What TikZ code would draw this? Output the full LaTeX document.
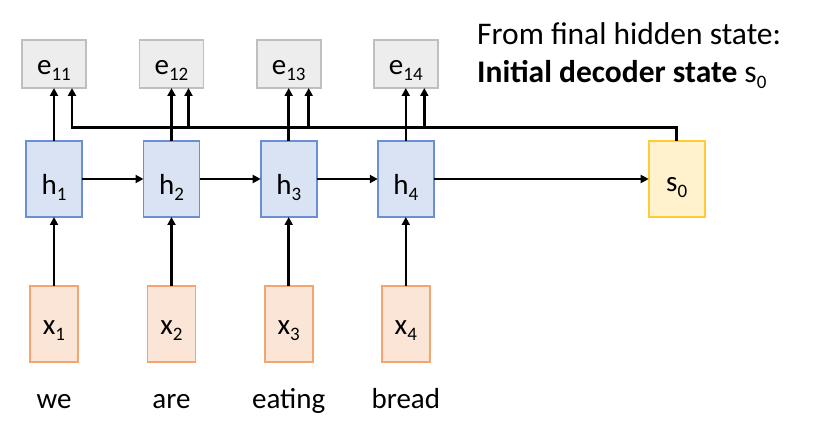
\documentclass[tikz,border=0pt]{standalone}
\usepackage{fontspec}
\setmainfont{Carlito}
\usepackage{xcolor}
\definecolor{scoreFill}{HTML}{EDEDED}
\definecolor{scoreBorder}{HTML}{BFBFBF}
\definecolor{encFill}{HTML}{DAE3F3}
\definecolor{encBorder}{HTML}{6A8FD5}
\definecolor{inFill}{HTML}{FBE5D6}
\definecolor{inBorder}{HTML}{F4A46E}
\definecolor{decFill}{HTML}{FFF2CC}
\definecolor{decBorder}{HTML}{FFCC33}
\usepackage{tikz}
\usetikzlibrary{arrows.meta,positioning}
\newcommand{\lowidx}[1]{\raisebox{-6pt}{\fontsize{19}{19}\selectfont #1}}
\tikzset{
    box/.style={
        draw,
        rectangle,
        line width=1.8pt,
        align=center,
        inner sep=0pt,
        outer sep=0pt,
        text depth=0pt,
        font=\fontsize{29}{35}\selectfont
    },
    score/.style={
        box,
        draw=scoreBorder,
        fill=scoreFill,
        minimum width=64pt,
        minimum height=48pt,
        text height=21pt
    },
    hidden/.style={
        box,
        draw=encBorder,
        fill=encFill,
        minimum width=56pt,
        minimum height=76pt,
        text height=31pt
    },
    input/.style={
        box,
        draw=inBorder,
        fill=inFill,
        minimum width=48pt,
        minimum height=76pt,
        text height=21pt
    },
    decoder/.style={
        box,
        draw=decBorder,
        fill=decFill,
        minimum width=56pt,
        minimum height=76pt,
        text height=25pt
    },
    word/.style={
        anchor=base,
        inner sep=0pt,
        font=\fontsize{29}{35}\selectfont
    },
    caption/.style={
        anchor=base west,
        inner sep=0pt,
        font=\fontsize{31.5}{38}\selectfont
    },
    arrow/.style={
        -{Triangle[length=8pt,width=8pt]},
        line width=2.6pt,
        color=black
    }
}

\begin{document}
\begin{tikzpicture}[x=1pt,y=1pt]
    \useasboundingbox (0,0) rectangle (813,-430);

    % Encoder hidden states
    \node[hidden] (h1) at (54,-179) {h\lowidx{1}};
    \node[hidden] (h2) at (171.5,-179) {h\lowidx{2}};
    \node[hidden] (h3) at (288.7,-179) {h\lowidx{3}};
    \node[hidden] (h4) at (405.8,-179) {h\lowidx{4}};
    \node[decoder] (s0) at (676.7,-179) {s\lowidx{0}};

    % Inputs and words
    \node[input, below=68.7pt of h1] (x1) {x\lowidx{1}};
    \node[input, below=68.7pt of h2] (x2) {x\lowidx{2}};
    \node[input, below=68.7pt of h3] (x3) {x\lowidx{3}};
    \node[input, below=68.7pt of h4] (x4) {x\lowidx{4}};
    \node[word] (we) at (54,-408) {we};
    \node[word] (are) at (171.5,-408) {are};
    \node[word] (eating) at (288.7,-408) {eating};
    \node[word] (bread) at (405.8,-408) {bread};

    % Alignment scores
    \node[score, above=53pt of h1] (e11) {e\lowidx{11}};
    \node[score, above=53pt of h2] (e12) {e\lowidx{12}};
    \node[score, above=53pt of h3] (e13) {e\lowidx{13}};
    \node[score, above=53pt of h4] (e14) {e\lowidx{14}};

    % Caption
    \node[caption] (cap1) at (477,-45) {From final hidden state:};
    \node[caption] (cap2) at (477,-83) {\textbf{Initial decoder state} s\lowidx{0}};

    % Encoder arrows
    \draw[arrow] (x1) -- (h1);
    \draw[arrow] (x2) -- (h2);
    \draw[arrow] (x3) -- (h3);
    \draw[arrow] (x4) -- (h4);
    \draw[arrow] (h1) -- (h2);
    \draw[arrow] (h2) -- (h3);
    \draw[arrow] (h3) -- (h4);
    \draw[arrow] (h4) -- (s0);
    \draw[arrow] (h1) -- (e11);
    \draw[arrow] (h2) -- (e12);
    \draw[arrow] (h3) -- (e13);
    \draw[arrow] (h4) -- (e14);

    % Decoder state fed back to every score
    \coordinate (bus) at ([yshift=13.3pt]s0.north);
    \draw[arrow] (s0.north) -- (bus) -| ([xshift=18pt]e11.south);
    \draw[arrow] ([xshift=17pt]e12.south |- bus) -- ([xshift=17pt]e12.south);
    \draw[arrow] ([xshift=20pt]e13.south |- bus) -- ([xshift=20pt]e13.south);
    \draw[arrow] ([xshift=18.5pt]e14.south |- bus) -- ([xshift=18.5pt]e14.south);
\end{tikzpicture}
\end{document}
